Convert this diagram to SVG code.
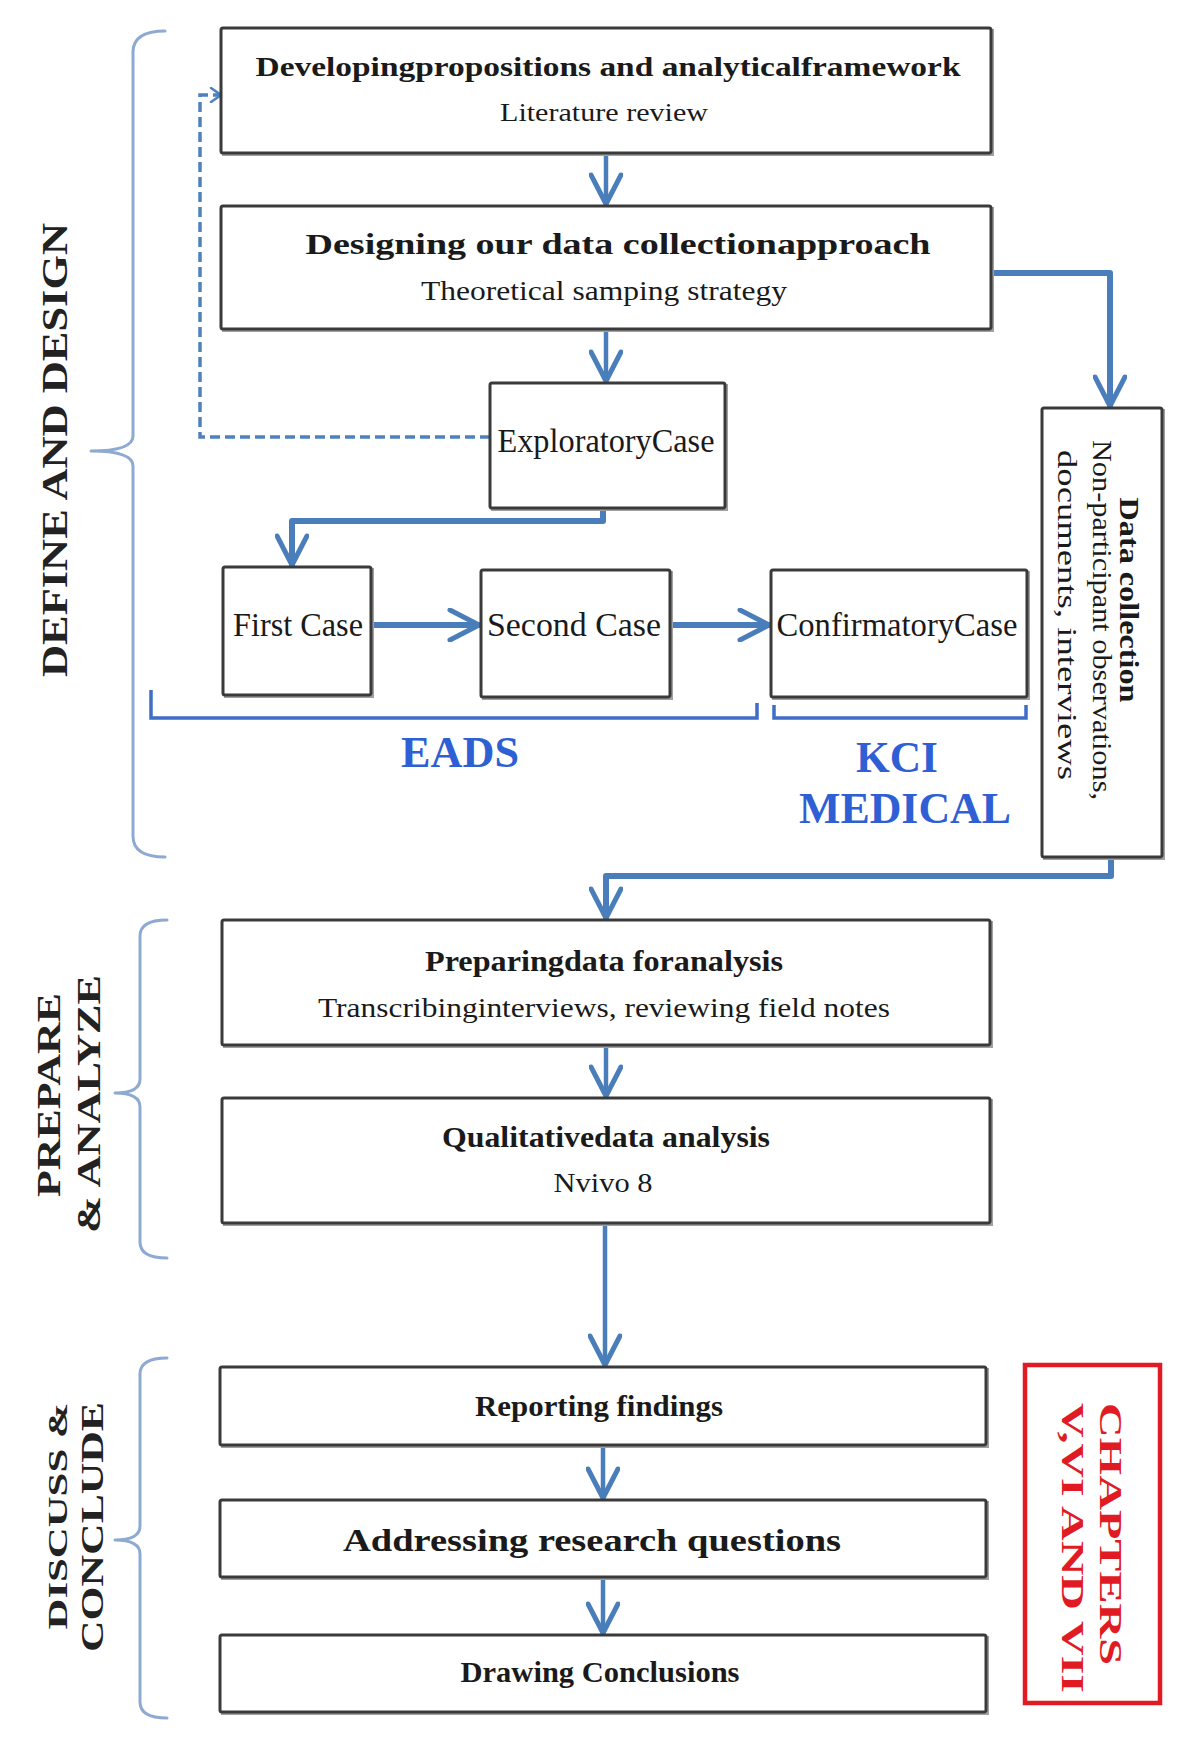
<svg xmlns="http://www.w3.org/2000/svg" width="1187" height="1762" viewBox="0 0 1187 1762">
  <style>
    .box { fill: #ffffff; stroke: #3a3a3a; stroke-width: 3; }
    .shadow { fill: none; stroke: #a0a0a0; stroke-width: 2; }
    .title { font-family: "Liberation Serif", "Times New Roman", serif; font-weight: bold; fill: #1a1a1a; text-anchor: middle; }
    .sub { font-family: "Liberation Serif", "Times New Roman", serif; fill: #1a1a1a; text-anchor: middle; }
    .side { font-family: "Liberation Serif", "Times New Roman", serif; font-weight: bold; fill: #222222; text-anchor: middle; }
    .brace { fill: none; stroke: #8eaad2; stroke-width: 3; stroke-linecap: round; stroke-linejoin: round; }
    .bracket { fill: none; stroke: #3f6dc8; stroke-width: 3.5; }
    .org { font-family: "Liberation Serif", "Times New Roman", serif; font-weight: bold; fill: #2f5fd4; text-anchor: middle; }
    .flow { fill: none; stroke: #4a7ebb; stroke-width: 4.5; stroke-linejoin: round; marker-end: url(#chev); }
    .flow-thick { fill: none; stroke: #4a7ebb; stroke-width: 6; stroke-linejoin: round; marker-end: url(#chev); }
    .dash { fill: none; stroke: #4f81bd; stroke-width: 3.5; stroke-dasharray: 10 5; marker-end: url(#chev-small); }
    .red { font-family: "Liberation Serif", "Times New Roman", serif; font-weight: bold; fill: #e01b24; }
  </style>
  <defs>
    <marker id="chev" viewBox="0 0 36 34" refX="33" refY="17" markerWidth="36" markerHeight="34" markerUnits="userSpaceOnUse" orient="auto">
      <path d="M3,2 L32,17 L3,32" fill="none" stroke="#4a7ebb" stroke-width="5" stroke-linejoin="round" stroke-linecap="round"/>
    </marker>
    <marker id="chev-small" viewBox="0 0 14 16" refX="12" refY="8" markerWidth="14" markerHeight="16" markerUnits="userSpaceOnUse" orient="auto">
      <path d="M2,1 L12,8 L2,15" fill="none" stroke="#4f81bd" stroke-width="2.5" stroke-linecap="round"/>
    </marker>
  </defs>

  <rect x="0" y="0" width="1187" height="1762" fill="#ffffff"/>

  <!-- phase braces and labels -->
  <g id="phase-define">
    <path class="brace" d="M165,31 Q133,31 133,52 V436 Q133,451 91,451 Q133,451 133,466 V836 Q133,857 165,857"/>
    <text class="side" font-size="36" textLength="454" lengthAdjust="spacingAndGlyphs" transform="translate(67,450) rotate(-90)">DEFINE AND DESIGN</text>
  </g>
  <g id="phase-prepare">
    <path class="brace" d="M167,920 Q140,920 140,936 V1079 Q140,1093 115,1093 Q140,1093 140,1107 V1242 Q140,1258 167,1258"/>
    <text class="side" font-size="33" textLength="204" lengthAdjust="spacingAndGlyphs" transform="translate(60,1095) rotate(-90)">PREPARE</text>
    <text class="side" font-size="33" textLength="258" lengthAdjust="spacingAndGlyphs" transform="translate(100,1104) rotate(-90)">&amp; ANALYZE</text>
  </g>
  <g id="phase-discuss">
    <path class="brace" d="M167,1358 Q140,1358 140,1374 V1526 Q140,1540 115,1540 Q140,1540 140,1554 V1702 Q140,1718 167,1718"/>
    <text class="side" font-size="28" textLength="227" lengthAdjust="spacingAndGlyphs" transform="translate(67,1516) rotate(-90)">DISCUSS &amp;</text>
    <text class="side" font-size="32" textLength="250" lengthAdjust="spacingAndGlyphs" transform="translate(103,1527) rotate(-90)">CONCLUDE</text>
  </g>

  <!-- connectors -->
  <g id="connectors">
    <path class="dash" d="M490,437 H200 V95 H221"/>
    <path class="flow" d="M606,153 V205"/>
    <path class="flow" d="M606,330 V382"/>
    <path class="flow-thick" d="M603,508 V521 H292 V566"/>
    <path class="flow-thick" d="M371,625 H480"/>
    <path class="flow-thick" d="M670,625 H770"/>
    <path class="flow-thick" d="M991,273 H1110 V407"/>
    <path class="flow-thick" d="M1111,857 V876 H606 V919"/>
    <path class="flow" d="M606,1045 V1097"/>
    <path class="flow" d="M605,1223 V1366"/>
    <path class="flow" d="M603,1445 V1499"/>
    <path class="flow" d="M603,1577 V1634"/>
  </g>

  <!-- study groups under the cases -->
  <g id="group-eads">
    <path class="bracket" d="M151,690 V718 H757 V703"/>
    <text class="org" x="460" y="767" font-size="44" textLength="118" lengthAdjust="spacingAndGlyphs">EADS</text>
  </g>
  <g id="group-kci">
    <path class="bracket" d="M774,705 V718 H1026 V705"/>
    <text class="org" x="897" y="772" font-size="44" textLength="82" lengthAdjust="spacingAndGlyphs">KCI</text>
    <text class="org" x="905" y="823" font-size="44" textLength="212" lengthAdjust="spacingAndGlyphs">MEDICAL</text>
  </g>

  <!-- process boxes -->
  <g id="n-framework">
    <rect class="shadow" x="223" y="30" width="770" height="125"/>
    <rect class="box" x="221" y="28" width="770" height="125" rx="2"/>
    <text class="title" x="608" y="76" font-size="28" textLength="705" lengthAdjust="spacingAndGlyphs">Developingpropositions and analyticalframework</text>
    <text class="sub" x="604" y="121" font-size="26" textLength="208" lengthAdjust="spacingAndGlyphs">Literature review</text>
  </g>
  <g id="n-design">
    <rect class="shadow" x="223" y="208" width="770" height="123"/>
    <rect class="box" x="221" y="206" width="770" height="123" rx="2"/>
    <text class="title" x="618" y="254" font-size="29" textLength="625" lengthAdjust="spacingAndGlyphs">Designing our data collectionapproach</text>
    <text class="sub" x="604" y="300" font-size="27" textLength="366" lengthAdjust="spacingAndGlyphs">Theoretical samping strategy</text>
  </g>
  <g id="n-exploratory">
    <rect class="shadow" x="492" y="385" width="235" height="125"/>
    <rect class="box" x="490" y="383" width="235" height="125" rx="2"/>
    <text class="sub" x="606" y="452" font-size="33" textLength="217" lengthAdjust="spacingAndGlyphs">ExploratoryCase</text>
  </g>
  <g id="n-first">
    <rect class="shadow" x="225" y="569" width="148" height="128"/>
    <rect class="box" x="223" y="567" width="148" height="128" rx="2"/>
    <text class="sub" x="298" y="636" font-size="34" textLength="130" lengthAdjust="spacingAndGlyphs">First Case</text>
  </g>
  <g id="n-second">
    <rect class="shadow" x="483" y="572" width="189" height="127"/>
    <rect class="box" x="481" y="570" width="189" height="127" rx="2"/>
    <text class="sub" x="574" y="636" font-size="34" textLength="174" lengthAdjust="spacingAndGlyphs">Second Case</text>
  </g>
  <g id="n-confirmatory">
    <rect class="shadow" x="773" y="572" width="256" height="127"/>
    <rect class="box" x="771" y="570" width="256" height="127" rx="2"/>
    <text class="sub" x="897" y="636" font-size="33" textLength="241" lengthAdjust="spacingAndGlyphs">ConfirmatoryCase</text>
  </g>
  <g id="n-datacollection">
    <rect class="shadow" x="1044" y="410" width="120" height="449"/>
    <rect class="box" x="1042" y="408" width="120" height="449" rx="2"/>
    <text class="title" font-size="27" textLength="205" lengthAdjust="spacingAndGlyphs" transform="translate(1120,600) rotate(90)">Data collection</text>
    <text class="sub" font-size="27" textLength="360" lengthAdjust="spacingAndGlyphs" transform="translate(1093,620) rotate(90)">Non-participant observations,</text>
    <text class="sub" font-size="27" textLength="330" lengthAdjust="spacingAndGlyphs" transform="translate(1058,615) rotate(90)">documents, interviews</text>
  </g>
  <g id="n-preparing">
    <rect class="shadow" x="224" y="922" width="768" height="125"/>
    <rect class="box" x="222" y="920" width="768" height="125" rx="2"/>
    <text class="title" x="604" y="971" font-size="29" textLength="358" lengthAdjust="spacingAndGlyphs">Preparingdata foranalysis</text>
    <text class="sub" x="604" y="1017" font-size="27" textLength="572" lengthAdjust="spacingAndGlyphs">Transcribinginterviews, reviewing field notes</text>
  </g>
  <g id="n-analysis">
    <rect class="shadow" x="224" y="1100" width="768" height="125"/>
    <rect class="box" x="222" y="1098" width="768" height="125" rx="2"/>
    <text class="title" x="606" y="1147" font-size="29" textLength="328" lengthAdjust="spacingAndGlyphs">Qualitativedata analysis</text>
    <text class="sub" x="603" y="1192" font-size="27" textLength="99" lengthAdjust="spacingAndGlyphs">Nvivo 8</text>
  </g>
  <g id="n-reporting">
    <rect class="shadow" x="222" y="1369" width="766" height="78"/>
    <rect class="box" x="220" y="1367" width="766" height="78" rx="2"/>
    <text class="title" x="599" y="1416" font-size="29" textLength="248" lengthAdjust="spacingAndGlyphs">Reporting findings</text>
  </g>
  <g id="n-questions">
    <rect class="shadow" x="222" y="1502" width="766" height="77"/>
    <rect class="box" x="220" y="1500" width="766" height="77" rx="2"/>
    <text class="title" x="592" y="1551" font-size="32" textLength="498" lengthAdjust="spacingAndGlyphs">Addressing research questions</text>
  </g>
  <g id="n-conclusions">
    <rect class="shadow" x="222" y="1637" width="766" height="77"/>
    <rect class="box" x="220" y="1635" width="766" height="77" rx="2"/>
    <text class="title" x="600" y="1682" font-size="29" textLength="279" lengthAdjust="spacingAndGlyphs">Drawing Conclusions</text>
  </g>

  <!-- chapter reference -->
  <g id="n-chapters">
    <rect x="1025" y="1365" width="135" height="338" fill="none" stroke="#e01b24" stroke-width="4.5"/>
    <text class="red" font-size="31" textLength="262" lengthAdjust="spacingAndGlyphs" transform="translate(1100,1403) rotate(90)">CHAPTERS</text>
    <text class="red" font-size="31" textLength="290" lengthAdjust="spacingAndGlyphs" transform="translate(1062,1403) rotate(90)">V,VI AND VII</text>
  </g>
</svg>
